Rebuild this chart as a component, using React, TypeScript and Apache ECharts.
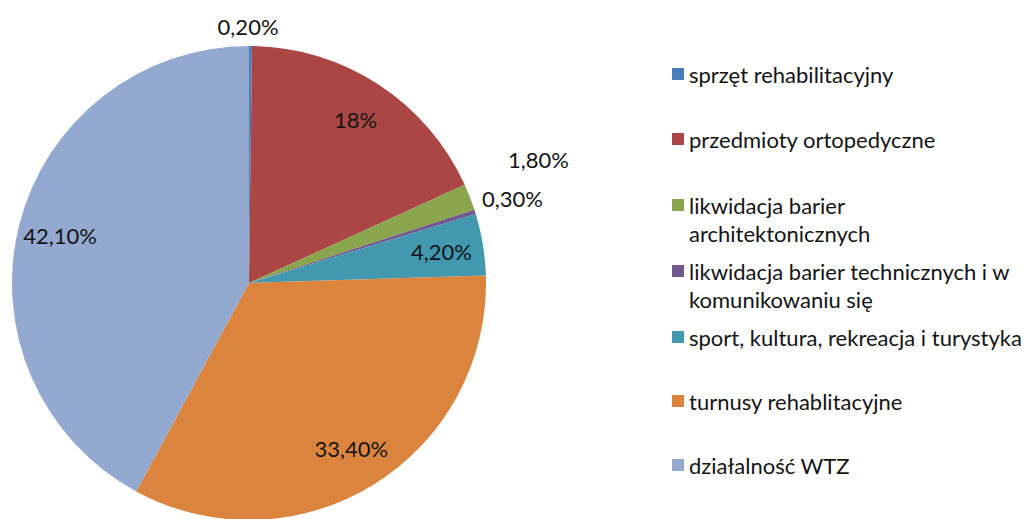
import React, { useEffect, useRef } from 'react';
import * as echarts from 'echarts';

const categories = [
  'sprzęt rehabilitacyjny',
  'przedmioty ortopedyczne',
  'likwidacja barier architektonicznych',
  'likwidacja barier technicznych i w komunikowaniu się',
  'sport, kultura, rekreacja i turystyka',
  'turnusy rehablitacyjne',
  'działalność WTZ',
];
const legendLines = [
  ['sprzęt rehabilitacyjny'],
  ['przedmioty ortopedyczne'],
  ['likwidacja barier', 'architektonicznych'],
  ['likwidacja barier technicznych i w', 'komunikowaniu się'],
  ['sport, kultura, rekreacja i turystyka'],
  ['turnusy rehablitacyjne'],
  ['działalność WTZ'],
];
const values = [0.2, 18, 1.8, 0.3, 4.2, 33.4, 42.1];
const colors = ['#4A7EBB', '#AA4643', '#89A54E', '#71588F', '#4198AF', '#DB843D', '#93A9CF'];

const FONT = 'Lato, "Liberation Sans", sans-serif';
const TEXT = '#141414';
const FS = 22;

function fmt(v: number): string {
  if (Number.isInteger(v)) return `${v}%`;
  return v.toFixed(2).replace('.', ',') + '%';
}

// outside label tuning for the thin slices (line length, distance)
const outsideLabel: Record<number, { len: number; dist: number }> = {
  0: { len: 20, dist: -33 },
  2: { len: 103, dist: -58 },
  3: { len: 45, dist: -36 },
};

const legendCenters = [74, 139, 205, 271, 337, 401, 465];

export default function App() {
  const ref = useRef<HTMLDivElement>(null);
  useEffect(() => {
    document.body.style.margin = '0';
    const chart = echarts.init(ref.current!, null, { renderer: 'svg' });
    const center = [249, 283];
    const R = 237;
    const option: any = {
      animation: false,
      backgroundColor: '#ffffff',
      color: colors,
      legend: categories.map((name, i) => {
        const two = legendLines[i].length > 1;
        return {
          data: [name],
          orient: 'vertical',
          left: 672,
          top: legendCenters[i] - (two ? 42 : 14),
          padding: 0,
          itemWidth: 12,
          itemHeight: 12,
          icon: 'rect',
          selectedMode: false,
          formatter: () => (two ? ' \n' : '') + legendLines[i].join('\n'),
          textStyle: {
            fontSize: FS,
            fontFamily: FONT,
            color: TEXT,
            lineHeight: 28,
          },
        };
      }),
      series: [
        {
          type: 'pie',
          center,
          radius: R,
          startAngle: 90,
          clockwise: true,
          silent: true,
          avoidLabelOverlap: false,
          label: { show: false },
          labelLine: { show: false },
          itemStyle: { borderWidth: 0 },
          emphasis: { disabled: true },
          data: categories.map((name, i) => ({ name, value: values[i] })),
        },
        {
          type: 'pie',
          center,
          radius: [147, R],
          startAngle: 90,
          clockwise: true,
          silent: true,
          avoidLabelOverlap: false,
          itemStyle: { color: 'rgba(0,0,0,0)', borderWidth: 0 },
          emphasis: { disabled: true },
          label: {
            show: true,
            position: 'inside',
            fontSize: FS,
            fontFamily: FONT,
            color: TEXT,
            formatter: (p: any) => fmt(p.value),
          },
          labelLine: { show: false },
          data: categories.map((name, i) => {
            const o = outsideLabel[i];
            if (!o) return { name, value: values[i] };
            return {
              name,
              value: values[i],
              label: { position: 'outside', distanceToLabelLine: o.dist },
              labelLine: { show: false, length: o.len, length2: 0 },
            };
          }),
        },
      ],
    };
    chart.setOption(option);
    return () => chart.dispose();
  }, []);
  return <div ref={ref} style={{ width: 1035, height: 519 }} />;
}
